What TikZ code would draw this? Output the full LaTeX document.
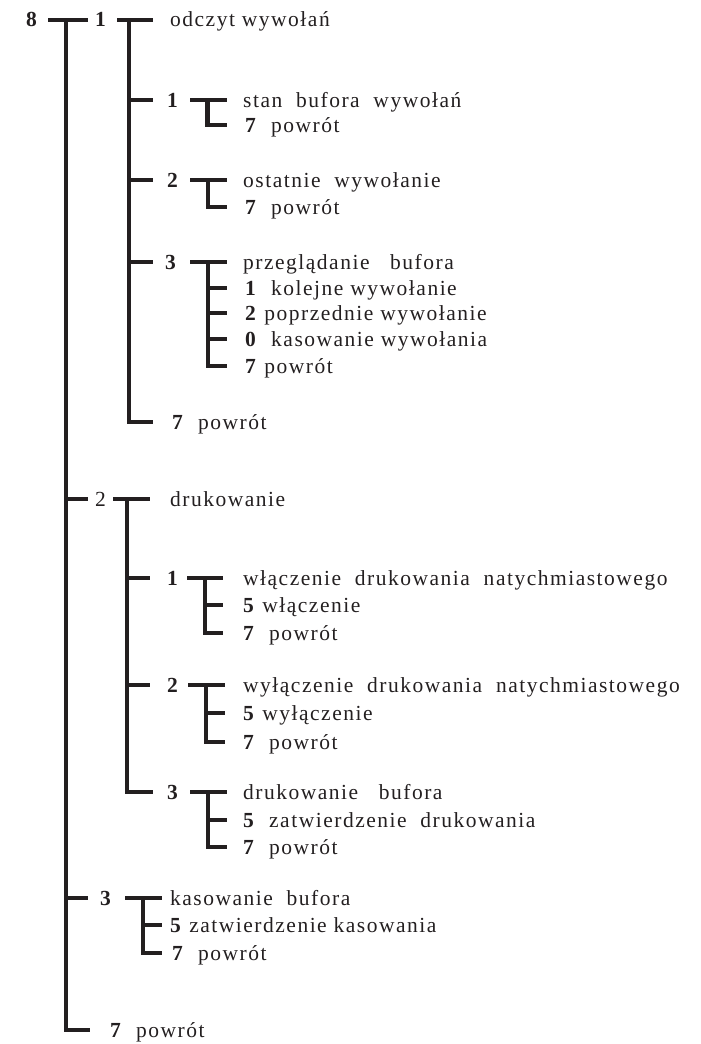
\documentclass[tikz,border=0pt]{standalone}
\usepackage{fontspec}
\setmainfont{Liberation Serif}[LetterSpace=7]
\usepackage{tikz}
\definecolor{ink}{RGB}{35,31,32}
\tikzset{barline/.style={draw=ink,line width=4.8pt}}
\tikzset{menutext/.style={anchor=base west,inner sep=0pt,text=ink,font=\fontsize{21.5}{24}\selectfont}}

\begin{document}
\begin{tikzpicture}[x=1pt,y=-1pt]
\useasboundingbox (0,0) rectangle (701,1044);

% Root key 8 and its trunk
\node[menutext] at (26,27) (k8) {\textbf{8}};
\draw[barline] (48,20) -- (88,20);
\draw[barline] (66,20) |- (90,1030);
\draw[barline] (66,499) -- (88,499);
\draw[barline] (66,898) -- (88,898);
\node[menutext] at (110,1037) (back0) {\textbf{7}\ \ powrót};

% Branch 1: odczyt wywolan
\node[menutext] at (95,27) (k1) {\textbf{1}};
\draw[barline] (117,20) -- (153,20);
\node[menutext] at (170,27) (odczyt) {odczyt wywołań};
\draw[barline] (129,20) |- (153,422);
\draw[barline] (129,100) -- (153,100);
\draw[barline] (129,180) -- (153,180);
\draw[barline] (129,262) -- (153,262);
\node[menutext] at (172,429) (backA) {\textbf{7}\ \ powrót};

% 1-1 stan bufora
\node[menutext] at (167,107) (kA1) {\textbf{1}};
\draw[barline] (190,100) -- (227,100);
\draw[barline] (207.5,100) |- (227,125);
\node[menutext] at (243,107) (stan) {stan\ \ bufora\ \ wywołań};
\node[menutext] at (245,132) (backA1) {\textbf{7}\ \ powrót};

% 1-2 ostatnie wywolanie
\node[menutext] at (167,187) (kA2) {\textbf{2}};
\draw[barline] (190,180) -- (227,180);
\draw[barline] (208,180) |- (227,207);
\node[menutext] at (243,187) (ostatnie) {ostatnie\ \ wywołanie};
\node[menutext] at (245,214) (backA2) {\textbf{7}\ \ powrót};

% 1-3 przegladanie bufora
\node[menutext] at (165,269) (kA3) {\textbf{3}};
\draw[barline] (190,262) -- (227,262);
\draw[barline] (208,262) |- (227,366);
\draw[barline] (208,288) -- (227,288);
\draw[barline] (208,313) -- (227,313);
\draw[barline] (208,339) -- (227,339);
\node[menutext] at (243,269) (przeg) {przeglądanie\ \ \ bufora};
\node[menutext] at (245,295) (kolejne) {\textbf{1}\ \ kolejne wywołanie};
\node[menutext] at (245,320) (poprz) {\textbf{2} poprzednie wywołanie};
\node[menutext] at (245,346) (kasw) {\textbf{0}\ \ kasowanie wywołania};
\node[menutext] at (245,373) (backA3) {\textbf{7} powrót};

% Branch 2: drukowanie
\node[menutext] at (95,506) (k2) {2};
\draw[barline] (113,499) -- (150,499);
\node[menutext] at (170,506) (druk) {drukowanie};
\draw[barline] (127,499) |- (153,792);
\draw[barline] (127,578) -- (150,578);
\draw[barline] (127,685) -- (150,685);

% 2-1 wlaczenie
\node[menutext] at (167,585) (kB1) {\textbf{1}};
\draw[barline] (187,578) -- (223,578);
\draw[barline] (205,578) |- (223,633);
\draw[barline] (205,605) -- (223,605);
\node[menutext] at (243,585) (wlacz) {włączenie\ \ drukowania\ \ natychmiastowego};
\node[menutext] at (243,612) (wlaczk) {\textbf{5} włączenie};
\node[menutext] at (243,640) (backB1) {\textbf{7}\ \ powrót};

% 2-2 wylaczenie
\node[menutext] at (167,692) (kB2) {\textbf{2}};
\draw[barline] (188,685) -- (225,685);
\draw[barline] (206,685) |- (225,742);
\draw[barline] (206,713) -- (225,713);
\node[menutext] at (243,692) (wylacz) {wyłączenie\ \ drukowania\ \ natychmiastowego};
\node[menutext] at (243,720) (wylaczk) {\textbf{5} wyłączenie};
\node[menutext] at (243,749) (backB2) {\textbf{7}\ \ powrót};

% 2-3 drukowanie bufora
\node[menutext] at (167,799) (kB3) {\textbf{3}};
\draw[barline] (190,792) -- (227,792);
\draw[barline] (208,792) |- (227,847);
\draw[barline] (208,820) -- (227,820);
\node[menutext] at (243,799) (drukbuf) {drukowanie\ \ \ bufora};
\node[menutext] at (243,827) (zatwd) {\textbf{5}\ \ zatwierdzenie\ \ drukowania};
\node[menutext] at (243,854) (backB3) {\textbf{7}\ \ powrót};

% Branch 3: kasowanie bufora
\node[menutext] at (100,905) (k3) {\textbf{3}};
\draw[barline] (125,898) -- (162,898);
\draw[barline] (143,898) |- (162,953);
\draw[barline] (143,925) -- (162,925);
\node[menutext] at (170,905) (kasbuf) {kasowanie\ \ bufora};
\node[menutext] at (170,932) (zatwk) {\textbf{5} zatwierdzenie kasowania};
\node[menutext] at (172,960) (backC) {\textbf{7}\ \ powrót};

\end{tikzpicture}
\end{document}
